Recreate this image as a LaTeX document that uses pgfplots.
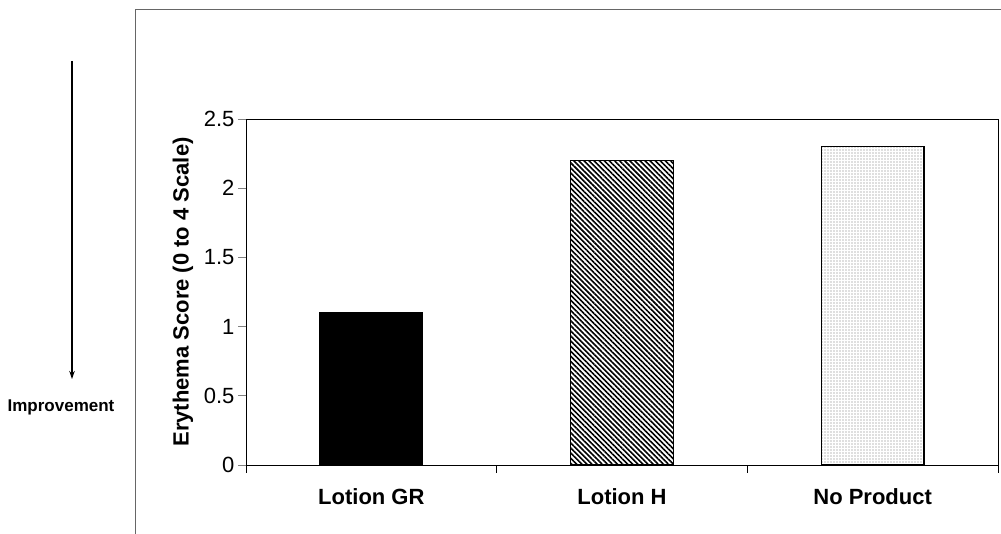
\documentclass[border=0pt]{standalone}
\usepackage{pgfplots}
\pgfplotsset{compat=1.18}
\usepackage{fontspec}
\setmainfont{Liberation Sans}
\usetikzlibrary{arrows.meta,patterns.meta}
\begin{document}
\begin{tikzpicture}[x=1pt,y=1pt]
\useasboundingbox (0,0) rectangle (1001,534);
\draw[black!60, line width=0.8pt] (135,0) -- (135,525) -- (1003,525);
\draw[line width=1.1pt, -{Stealth[length=8pt,width=5.5pt]}] (72,473) -- (72,155);
\node[font=\fontsize{17}{20}\selectfont\bfseries] at (61,127) {Improvement};
\begin{axis}[
  at={(246pt,69pt)}, anchor=south west,
  scale only axis, width=752pt, height=346pt,
  xmin=-0.5, xmax=2.5, ymin=0, ymax=2.5,
  ytick={0,0.5,1,1.5,2,2.5},
  xtick={0,1,2},
  xticklabels={Lotion GR, Lotion H, No Product},
  xtick style={draw=none},
  extra x ticks={-0.5,0.5,1.5,2.5},
  extra x tick labels={},
  extra x tick style={xtick style={draw=black, line width=0.8pt}},
  tick align=outside, major tick length=8pt,
  ytick style={line width=0.8pt},
  xtick pos=bottom, ytick pos=left,
  axis line style={line width=0.9pt},
  /pgf/number format/assume math mode=true,
  ticklabel style={font=\fontsize{22}{26}\selectfont},
  xticklabel style={font=\fontsize{22}{26}\selectfont\bfseries, yshift=-12pt},
  ylabel={Erythema Score (0 to 4 Scale)},
  ylabel style={at={(axis description cs:-0.0838,0.5)}, anchor=center, font=\fontsize{22}{26}\selectfont\bfseries},
]
\addplot[ybar, bar width=0.41, bar shift=0pt, draw=black, line width=1.5pt, fill=black] coordinates {(0,1.1)};
\addplot[ybar, bar width=0.41, bar shift=0pt, draw=black, line width=1.5pt, pattern={Lines[angle=-45,distance=3.6pt,line width=1.6pt]}, pattern color=black] coordinates {(1,2.2)};
\addplot[ybar, bar width=0.41, bar shift=0pt, draw=black, line width=1.5pt, pattern={Dots[distance=3pt,radius=0.55pt]}, pattern color=black!55] coordinates {(2,2.3)};
\end{axis}
\end{tikzpicture}
\end{document}
